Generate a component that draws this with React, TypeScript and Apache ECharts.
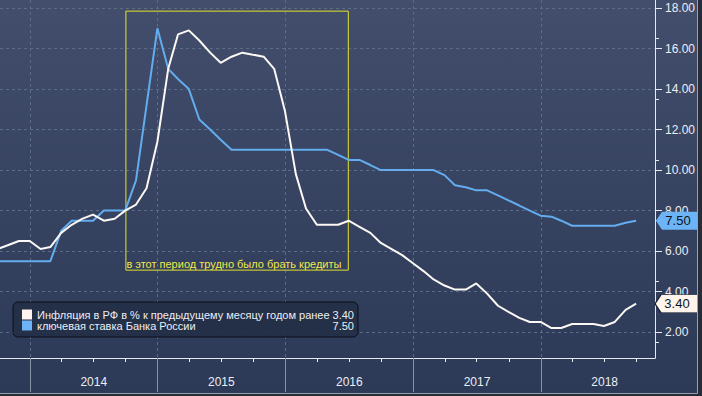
import { useEffect, useRef } from 'react';
import * as echarts from 'echarts';

// First monthly observation: September 2013 (month index 0-based)
const START_YEAR = 2013;
const START_MONTH = 8;

// CPI, % y/y (Sep 2013 .. Sep 2018)
const INFLATION = [
  6.1, 6.3, 6.5, 6.5,
  6.1, 6.2, 6.9, 7.3, 7.6, 7.8, 7.5, 7.6, 8.0, 8.3, 9.1, 11.4,
  15.0, 16.7, 16.9, 16.4, 15.8, 15.3, 15.6, 15.8, 15.7, 15.6, 15.0, 12.9,
  9.8, 8.1, 7.3, 7.3, 7.3, 7.5, 7.2, 6.9, 6.4, 6.1, 5.8, 5.4,
  5.0, 4.6, 4.3, 4.1, 4.1, 4.4, 3.9, 3.3, 3.0, 2.7, 2.5, 2.5,
  2.2, 2.2, 2.4, 2.4, 2.4, 2.3, 2.5, 3.1, 3.4,
];

// Key rate, % (Sep 2013 .. Sep 2018)
const KEY_RATE = [
  5.5, 5.5, 5.5, 5.5,
  5.5, 5.5, 7.0, 7.5, 7.5, 7.5, 8.0, 8.0, 8.0, 9.5, 13.2, 17.0,
  15.0, 14.5, 14.0, 12.5, 12.0, 11.5, 11.0, 11.0, 11.0, 11.0, 11.0, 11.0,
  11.0, 11.0, 11.0, 11.0, 10.75, 10.5, 10.5, 10.25, 10.0, 10.0, 10.0, 10.0,
  10.0, 10.0, 9.75, 9.25, 9.15, 9.0, 9.0, 8.75, 8.5, 8.25, 8.0, 7.75,
  7.7, 7.5, 7.25, 7.25, 7.25, 7.25, 7.25, 7.4, 7.5,
];

const NAME_INFLATION = 'Инфляция в РФ в % к предыдущему месяцу годом ранее';
const NAME_RATE = 'ключевая ставка Банка России';
const ANNOTATION_TEXT = 'в этот период трудно было брать кредиты';

const YEARS = [2014, 2015, 2016, 2017, 2018];
const Y_TICKS = [2, 4, 6, 8, 10, 12, 14, 16, 18];
const Y_MIN = 0.72;
const Y_MAX = 18.4;
const X_MIN: [number, number, number] = [2013, 9, 7];
const X_MAX: [number, number, number] = [2018, 10, 23];
const ANNOTATION_FROM: [number, number, number] = [2014, 9, 2];
const ANNOTATION_TO: [number, number, number] = [2016, 5, 29];
const ANNOTATION_TOP = 17.85;
const ANNOTATION_BOTTOM = 5.06;

const FONT = 'Liberation Sans';

const ts = (d: [number, number, number]) => new Date(d[0], d[1], d[2]).getTime();
const monthEnd = (i: number) => {
  const m = START_MONTH + i;
  return new Date(START_YEAR, m + 1, 0).getTime();
};

export default function App() {
  const ref = useRef<HTMLDivElement>(null);

  useEffect(() => {
    if (!ref.current) return;
    const chart = echarts.init(ref.current, undefined, { renderer: 'svg' });

    const xMin = ts(X_MIN);
    const xMax = ts(X_MAX);
    const lastInfl = INFLATION[INFLATION.length - 1];
    const lastRate = KEY_RATE[KEY_RATE.length - 1];
    const inflData = INFLATION.map((v, i) => [monthEnd(i), v]);
    const rateData = KEY_RATE.map((v, i) => [monthEnd(i), v]);

    const yearStarts = YEARS.map((y) => new Date(y, 0, 1).getTime());
    const yearMids = YEARS.map((y) => new Date(y, 6, 2).getTime());
    const quarters: number[] = [];
    YEARS.forEach((y) => {
      [3, 6, 9].forEach((m) => quarters.push(new Date(y, m, 1).getTime()));
    });

    const gridColor = '#5a6c88';
    const axisColor = '#e6e9ee';
    const textColor = '#eceef2';

    const tagPath = 'path://M0,9L6,0L46,0L46,18L6,18Z';
    const legendValues: Record<string, string> = {
      [NAME_INFLATION]: lastInfl.toFixed(2),
      [NAME_RATE]: lastRate.toFixed(2),
    };

    chart.setOption({
      animation: false,
      backgroundColor: new echarts.graphic.LinearGradient(0, 0, 0, 1, [
        { offset: 0, color: '#424e6b' },
        { offset: 0.88, color: '#2e3b59' },
        { offset: 1, color: '#2c3957' },
      ]),
      textStyle: { fontFamily: FONT },
      grid: { left: 0, top: 0, right: 47, bottom: 38, containLabel: false },
      legend: {
        show: true,
        orient: 'vertical',
        left: 13,
        top: 302,
        data: [NAME_INFLATION, NAME_RATE],
        selectedMode: false,
        icon: 'rect',
        itemWidth: 10,
        itemHeight: 10,
        itemGap: 0,
        padding: [7, 4, 6, 9],
        backgroundColor: 'rgba(36,46,70,0.9)',
        borderColor: '#0b0f18',
        borderWidth: 1,
        borderRadius: 5,
        formatter: (name: string) => `{n|${name}}{v|${legendValues[name]}}`,
        textStyle: {
          color: textColor,
          fontFamily: FONT,
          fontSize: 11,
          rich: {
            n: { width: 292, fontSize: 11, lineHeight: 13, color: textColor, fontFamily: FONT },
            v: { width: 25, align: 'right', fontSize: 11, lineHeight: 13, color: textColor, fontFamily: FONT },
          },
        },
      },
      xAxis: [
        {
          type: 'value',
          min: xMin,
          max: xMax,
          position: 'bottom',
          axisLine: { show: true, lineStyle: { color: axisColor, width: 1 } },
          axisTick: {
            show: true,
            customValues: yearStarts,
            length: 34,
            lineStyle: { color: '#8a93a6', width: 1 },
          },
          axisLabel: {
            show: true,
            customValues: yearMids,
            formatter: (v: number) => String(new Date(v).getFullYear()),
            color: textColor,
            fontSize: 12,
            fontFamily: FONT,
            margin: 18,
          },
          splitLine: {
            show: true,
            lineStyle: { color: gridColor, type: [3, 3], width: 1 },
          },
        },
        {
          type: 'value',
          min: xMin,
          max: xMax,
          position: 'bottom',
          axisLine: { show: false },
          axisTick: {
            show: true,
            customValues: quarters,
            length: 4,
            lineStyle: { color: axisColor, width: 1 },
          },
          axisLabel: { show: false },
          splitLine: { show: false },
        },
      ],
      yAxis: {
        type: 'value',
        position: 'right',
        min: Y_MIN,
        max: Y_MAX,
        axisLine: { show: true, lineStyle: { color: axisColor, width: 1 } },
        axisTick: {
          show: true,
          customValues: Y_TICKS,
          length: 7,
          lineStyle: { color: axisColor, width: 1 },
        },
        minorTick: {
          show: true,
          splitNumber: 2,
          length: 4,
          lineStyle: { color: axisColor, width: 1 },
        },
        axisLabel: {
          show: true,
          customValues: Y_TICKS,
          formatter: (v: number) => v.toFixed(2),
          color: textColor,
          fontSize: 12,
          fontFamily: FONT,
          margin: 10,
        },
        splitLine: {
          show: true,
          lineStyle: { color: gridColor, type: [3, 3], width: 1 },
        },
      },
      series: [
        {
          name: NAME_RATE,
          type: 'line',
          xAxisIndex: 0,
          data: rateData,
          showSymbol: false,
          symbol: 'none',
          lineStyle: { color: '#63adef', width: 2 },
          itemStyle: { color: '#6cb4f5' },
          z: 3,
          markArea: {
            silent: true,
            itemStyle: {
              color: 'rgba(0,0,0,0)',
              borderColor: '#e4e22c',
              borderWidth: 1,
            },
            label: {
              show: true,
              position: 'insideBottomLeft',
              distance: 1,
              color: '#efe84a',
              fontSize: 11,
              fontFamily: FONT,
              formatter: ANNOTATION_TEXT,
            },
            data: [
              [
                { xAxis: ts(ANNOTATION_FROM), yAxis: ANNOTATION_TOP },
                { xAxis: ts(ANNOTATION_TO), yAxis: ANNOTATION_BOTTOM },
              ],
            ],
          },
          markPoint: {
            silent: true,
            symbol: tagPath,
            symbolSize: [46, 18],
            symbolOffset: [24, 0],
            symbolKeepAspect: false,
            itemStyle: { color: '#6cb4f5' },
            label: {
              show: true,
              position: 'inside',
              offset: [-1, 0],
              color: '#0e1422',
              fontSize: 13,
              fontFamily: FONT,
              formatter: (p: any) => Number(p.value).toFixed(2),
            },
            data: [{ coord: [xMax, lastRate], value: lastRate }],
          },
        },
        {
          name: NAME_INFLATION,
          type: 'line',
          xAxisIndex: 0,
          data: inflData,
          showSymbol: false,
          symbol: 'none',
          lineStyle: { color: '#fbf8f5', width: 2 },
          itemStyle: { color: '#fff4ef' },
          z: 4,
          markPoint: {
            silent: true,
            symbol: tagPath,
            symbolSize: [46, 18],
            symbolOffset: [23, 0],
            symbolKeepAspect: false,
            itemStyle: { color: '#fff5ec', borderColor: '#1c2230', borderWidth: 1 },
            label: {
              show: true,
              position: 'inside',
              offset: [-1, 0],
              color: '#0e1422',
              fontSize: 13,
              fontFamily: FONT,
              formatter: (p: any) => Number(p.value).toFixed(2),
            },
            data: [{ coord: [xMax, lastInfl], value: lastInfl }],
          },
        },
      ],
      graphic: [
        { type: 'rect', shape: { x: 697, y: 0, width: 5, height: 396 }, style: { fill: '#262c38' }, z: 100 },
        { type: 'rect', shape: { x: 0, y: 393, width: 702, height: 3 }, style: { fill: '#262c38' }, z: 100 },
        { type: 'line', shape: { x1: 697.5, y1: 0, x2: 697.5, y2: 393.5 }, style: { stroke: '#9aa0ab', lineWidth: 1 }, z: 101 },
        { type: 'line', shape: { x1: 0, y1: 393.5, x2: 697.5, y2: 393.5 }, style: { stroke: '#9aa0ab', lineWidth: 1 }, z: 101 },
      ],
    });

    return () => chart.dispose();
  }, []);

  return (
    <div
      ref={ref}
      style={{ position: 'fixed', left: 0, top: 0, width: 702, height: 396 }}
    />
  );
}
